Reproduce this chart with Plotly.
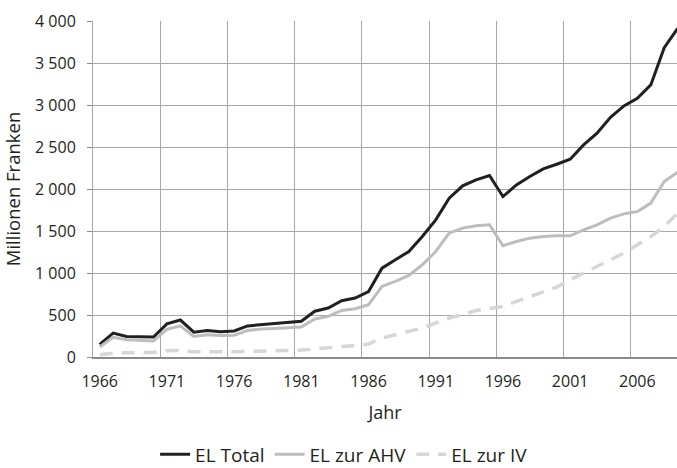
import plotly.graph_objects as go

years = list(range(1966, 2010))
el_total = [150, 285, 245, 240, 238, 395, 440, 295, 315, 300,
            310, 370, 385, 395, 410, 425, 545, 583, 670, 702,
            780, 1058, 1157, 1256, 1434, 1633, 1891, 2037, 2109, 2160,
            1910, 2049, 2148, 2239, 2295, 2355, 2525, 2664, 2854, 2989,
            3080, 3239, 3682, 3913]
el_ahv = [120, 235, 205, 195, 190, 330, 370, 245, 265, 255,
          260, 315, 333, 340, 350, 357, 452, 483, 554, 574,
          622, 840, 899, 971, 1098, 1256, 1475, 1534, 1562, 1574,
          1324, 1375, 1415, 1434, 1443, 1443, 1514, 1574, 1653, 1704,
          1732, 1832, 2090, 2200]
el_iv = [28, 45, 50, 52, 55, 75, 78, 62, 60, 62,
         63, 66, 68, 70, 75, 82, 95, 112, 125, 135,
         155, 225, 265, 305, 345, 404, 464, 505, 554, 578,
         602, 661, 721, 780, 833, 919, 999, 1070, 1157, 1237,
         1336, 1434, 1553, 1713]
x_ticks = list(range(1966, 2007, 5))
x_ticktext = [str(v) for v in x_ticks]

FONT = "Open Sans"
fig = go.Figure()
fig.add_trace(go.Scatter(x=years, y=el_total, mode="lines", name="EL Total",
                         line=dict(color="#231f20", width=3)))
fig.add_trace(go.Scatter(x=years, y=el_ahv, mode="lines", name="EL zur AHV",
                         line=dict(color="#bdbdbd", width=3)))
fig.add_trace(go.Scatter(x=years, y=el_iv, mode="lines", name="EL zur IV",
                         line=dict(color="#d6d6d6", width=3.5, dash="13px,9px")))

fig.update_layout(
    width=677, height=468,
    margin=dict(l=93, r=0, t=21, b=111, autoexpand=False),
    paper_bgcolor="white", plot_bgcolor="white",
    separators=". ",
    font=dict(family=FONT, size=16, color="#231f20"),
    showlegend=True,
    legend=dict(orientation="h", x=0.43, xanchor="center", y=-0.29, yanchor="middle",
                font=dict(family=FONT, size=19, color="#231f20"),
                bgcolor="rgba(0,0,0,0)"),
    xaxis=dict(
        range=[1965.5, 2008.95], tickmode="array", tickvals=x_ticks, ticktext=x_ticktext,
        showgrid=False, zeroline=False, ticks="", ticklabelstandoff=9,
        showline=True, linecolor="#8a8a8a", linewidth=2,
        minor=dict(tick0=1965.5, dtick=5, showgrid=True, gridcolor="#a8a8a8", gridwidth=1, ticks=""),
        title=dict(text="Jahr", font=dict(family=FONT, size=18), standoff=15),
        tickfont=dict(family=FONT, size=16), automargin=False,
    ),
    yaxis=dict(
        range=[0, 4000], dtick=500, tick0=0, separatethousands=True,
        showgrid=True, gridcolor="#a8a8a8", gridwidth=1, zeroline=False,
        ticks="outside", ticklen=5, tickcolor="#8a8a8a", ticklabelstandoff=8,
        showline=True, linecolor="#a8a8a8", linewidth=1,
        title=dict(text="Millionen Franken", font=dict(family=FONT, size=18.5), standoff=9),
        tickfont=dict(family=FONT, size=16), automargin=False,
    ),
)

fig.write_html("out.html", config={"displayModeBar": False},
               post_script="document.body.style.margin='0';document.body.style.padding='0';document.body.style.overflow='hidden';")
